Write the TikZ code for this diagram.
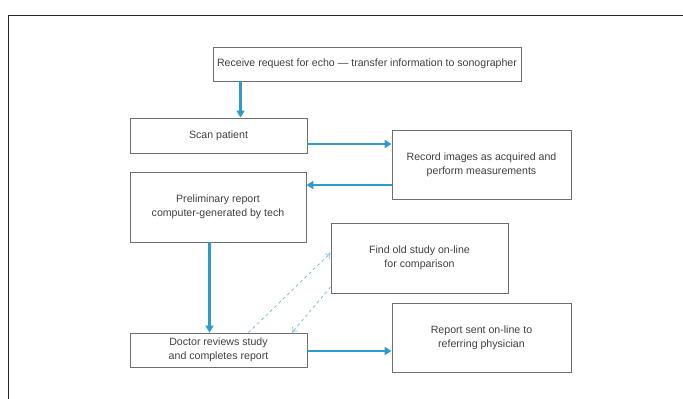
\documentclass[tikz,border=0pt]{standalone}
\usepackage{fontspec}
\setmainfont{Liberation Sans}
\usetikzlibrary{arrows.meta}
\definecolor{flowblue}{RGB}{45,155,205}
\definecolor{dashblue}{RGB}{125,190,220}
\definecolor{boxgray}{RGB}{110,110,110}
\begin{document}
\begin{tikzpicture}[x=1pt,y=-1pt,
  box/.style={draw=boxgray, line width=0.9pt, fill=white, align=center,
    font=\fontsize{10.6}{14}\selectfont, text=black!75, inner sep=2pt},
  arr/.style={draw=flowblue, line width=2.8pt, -{Triangle[length=7pt,width=8pt]}},
  darr/.style={draw=dashblue, line width=0.8pt, dashed, -{To[length=5pt,width=7pt]}}]
\useasboundingbox (0,0) rectangle (683,399);
\draw[line width=1pt, black!85] (8,399) |- (683,15);

\node[box, minimum width=308, minimum height=34] (recv) at (367,64)
  {Receive request for echo — transfer information to sonographer};
\node[box, minimum width=177, minimum height=35] (scan) at (218.5,135.5)
  {Scan patient};
\node[box, minimum width=179, minimum height=69] (record) at (481.5,164.5)
  {Record images as acquired and\\perform measurements};
\node[box, minimum width=176, minimum height=70] (prelim) at (218,207)
  {Preliminary report\\computer-generated by tech};
\node[box, minimum width=177, minimum height=70] (find) at (419.5,258)
  {Find old study on-line\\for comparison};
\node[box, minimum width=177, minimum height=34] (doctor) at (218.5,350)
  {Doctor reviews study\\and completes report};
\node[box, minimum width=179, minimum height=69] (report) at (481.5,337.5)
  {Report sent on-line to\\referring physician};

\draw[arr] ([xshift=28pt]recv.south west) -- ([xshift=28pt]recv.south west |- scan.north);
\draw[arr] ([yshift=-8.5pt]scan.east) -- ([yshift=-8.5pt]scan.east -| record.west);
\draw[arr] ([yshift=-20.5pt]record.west) -- ([yshift=-20.5pt]record.west -| prelim.east);
\draw[arr] ([xshift=-8.5pt]prelim.south) -- ([xshift=-8.5pt]prelim.south |- doctor.north);
\draw[arr] ([yshift=-1pt]doctor.east) -- ([yshift=-1pt]doctor.east -| report.west);

\draw[darr] ([xshift=30pt]doctor.north) -- ([yshift=5pt]find.west);
\draw[darr] ([yshift=-29pt]find.west) -- ([xshift=73.5pt]doctor.north);
\end{tikzpicture}
\end{document}
